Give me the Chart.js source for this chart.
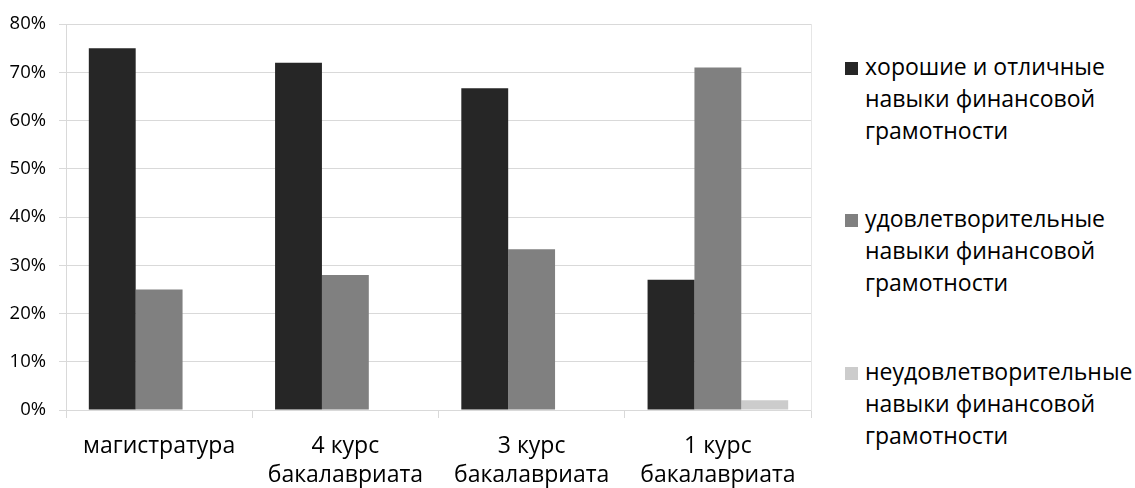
<!DOCTYPE html>
<html>
<head>
    <meta charset="utf-8">
    <title>Навыки финансовой грамотности</title>
    <script src="https://cdn.jsdelivr.net/npm/chart.js"></script>
    <style>
        body { margin: 0; padding: 0; background: #fff; font-family: "Open Sans", sans-serif; }
        #wrap { position: absolute; left: 0; top: 0; width: 820px; height: 488px; }
        #legend { position: absolute; left: 845px; top: 0; width: 290px; }
        .item { position: absolute; left: 0; }
        .box { position: absolute; left: 0; top: 12px; width: 13px; height: 13px; }
        .txt { position: absolute; left: 20px; font-size: 23px; line-height: 32px; color: #000; white-space: nowrap; }
    </style>
</head>
<body>
    <div id="wrap"><canvas id="chart"></canvas></div>
    <div id="legend"></div>
    <script>
        const categories = ['магистратура', ['4 курс', 'бакалавриата'], ['3 курс', 'бакалавриата'], ['1 курс', 'бакалавриата']];
        const seriesNames = [
            ['хорошие и отличные', 'навыки финансовой', 'грамотности'],
            ['удовлетворительные', 'навыки финансовой', 'грамотности'],
            ['неудовлетворительные', 'навыки финансовой', 'грамотности']
        ];
        const good = [75, 72, 66.7, 27];
        const fair = [25, 28, 33.3, 71];
        const poor = [0, 0, 0, 2];
        const colors = ['#262626', '#808080', '#cccccc'];
        const yTicks = [0, 10, 20, 30, 40, 50, 60, 70, 80];

        const values = [good, fair, poor];
        const datasets = values.map((v, i) => ({
            label: seriesNames[i].join(' '),
            data: v,
            backgroundColor: colors[i],
            borderWidth: 0,
            categoryPercentage: 0.755,
            barPercentage: 1
        }));

        new Chart(document.getElementById('chart'), {
            type: 'bar',
            data: { labels: categories, datasets: datasets },
            options: {
                responsive: true,
                maintainAspectRatio: false,
                animation: false,
                layout: { padding: { top: 23, right: 8, left: 0, bottom: 0 } },
                plugins: { legend: { display: false }, tooltip: { enabled: false } },
                scales: {
                    x: {
                        grid: { offset: true, drawOnChartArea: false, tickLength: 8, color: '#d9d9d9' },
                        border: { color: '#d9d9d9' },
                        ticks: { color: '#000', font: { family: 'Open Sans', size: 23, lineHeight: 1.26 }, padding: 14, maxRotation: 0, autoSkip: false },
                        afterFit: s => { s.height = 78; }
                    },
                    y: {
                        min: 0, max: 80,
                        afterBuildTicks: s => { s.ticks = yTicks.map(v => ({ value: v })); },
                        grid: { color: '#d9d9d9', tickLength: 7 },
                        border: { color: '#d9d9d9' },
                        ticks: { color: '#000', font: { family: 'Open Sans', size: 18.5 }, padding: 13, callback: v => v + '%' },
                        afterFit: s => { s.width = 66; }
                    },
                    y2: {
                        position: 'right',
                        min: 0, max: 80,
                        grid: { drawOnChartArea: false, drawTicks: false },
                        border: { color: '#e6e6e6' },
                        ticks: { display: false },
                        afterFit: s => { s.width = 1; }
                    }
                }
            }
        });

        // legend on the right, three lines per series
        const legend = document.getElementById('legend');
        const groupTops = [50, 202, 355];
        seriesNames.forEach((lines, i) => {
            const item = document.createElement('div');
            item.className = 'item';
            item.style.top = groupTops[i] + 'px';
            item.innerHTML = '<div class="box" style="background:' + colors[i] + '"></div>' +
                lines.map((t, j) => '<div class="txt" style="top:' + (j * 32) + 'px">' + t + '</div>').join('');
            legend.appendChild(item);
        });
    </script>
</body>
</html>
